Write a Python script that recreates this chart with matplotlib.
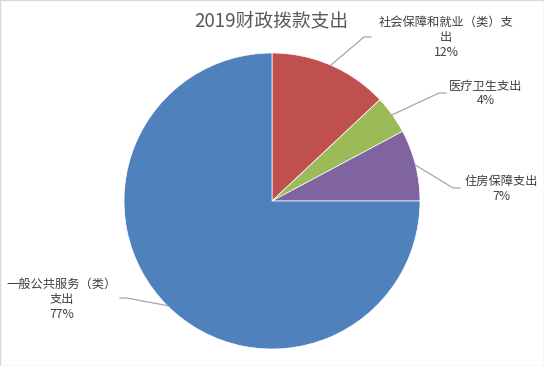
import matplotlib
matplotlib.use('Agg')
import matplotlib.pyplot as plt
import numpy as np
from matplotlib.lines import Line2D
from matplotlib.patches import Rectangle

plt.rcParams['font.family'] = ['Noto Sans CJK SC', 'DejaVu Sans']

# data (slice sizes as drawn in the picture, labels as printed)
categories = ['社会保障和就业（类）支\n出', '医疗卫生支出', '住房保障支出', '一般公共服务（类）\n支出']
shares = [13.0, 4.2, 7.8, 75.0]
pct_labels = ['12%', '4%', '7%', '77%']
colors = ['#C0504D', '#9BBB59', '#8064A2', '#4F81BD']

W, H = 544, 366
cx, cy, r = 272, 201, 148

# label layout in pixels (x, y from top)
label_pos = [(446, 37.5), (486, 93.5), (501, 189), (62, 299)]
elbows = [((364, 37), (371, 37)), ((439, 93), (446, 93)),
          ((453, 188), (460, 188)), ((127, 298), (120, 298))]


def px(x, y):
    return x / W, 1 - y / H


fig = plt.figure(figsize=(W / 100, H / 100), dpi=100)
fig.patch.set_facecolor('white')
ax = fig.add_axes([(cx - r) / W, (H - cy - r) / H, 2 * r / W, 2 * r / H])

wedges, _ = ax.pie(shares, colors=colors, startangle=90, counterclock=False,
                   wedgeprops=dict(edgecolor='white', linewidth=0.5))
ax.set_xlim(-1, 1)
ax.set_ylim(-1, 1)
ax.set_aspect('equal')

fig.text(*px(271, 21), '2019财政拨款支出', ha='center', va='center',
         fontsize=13.5, color='#595959')

to_fig = fig.transFigure.inverted()
for w, name, pct, (lx, ly), (e1, e2) in zip(wedges, categories, pct_labels, label_pos, elbows):
    mid = np.deg2rad((w.theta1 + w.theta2) / 2)
    start = to_fig.transform(ax.transData.transform((np.cos(mid), np.sin(mid))))
    xs = [start[0], px(*e1)[0], px(*e2)[0]]
    ys = [start[1], px(*e1)[1], px(*e2)[1]]
    fig.add_artist(Line2D(xs, ys, transform=fig.transFigure, color='#A6A6A6', linewidth=0.9))
    fig.text(*px(lx, ly), name + '\n' + pct, ha='center', va='center',
             fontsize=8.8, color='#404040', linespacing=1.2)

fig.patches.append(Rectangle((0, 0), 1, 1, transform=fig.transFigure, fill=False,
                             edgecolor='#D9D9D9', linewidth=1))

fig.savefig('out.png', dpi=100)
